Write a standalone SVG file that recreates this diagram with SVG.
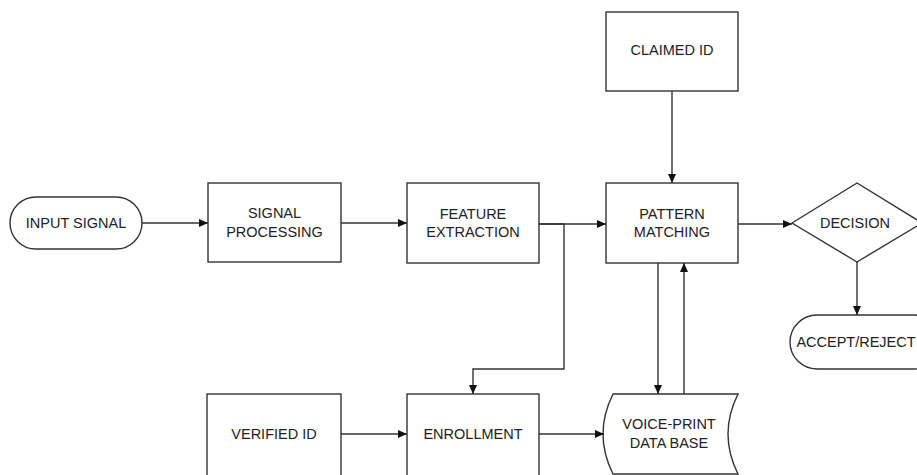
<svg xmlns="http://www.w3.org/2000/svg" width="917" height="475" viewBox="0 0 917 475">
<defs>
<marker id="arr" markerWidth="10" markerHeight="10" refX="9" refY="5" orient="auto" markerUnits="userSpaceOnUse">
<path d="M0,1 L9,5 L0,9 Z" fill="#111"/>
</marker>
<style>
.n{fill:#fff;stroke:#333;stroke-width:1.4}
.t{font-family:"Liberation Sans",Arial,sans-serif;font-size:14.5px;fill:#222;text-anchor:middle}
.c{fill:none;stroke:#333;stroke-width:1.4}
</style>
</defs>
<rect width="917" height="475" fill="#fff"/>
<g id="input-signal"><rect class="n" x="10" y="197" width="132" height="52" rx="26"/><text class="t" x="76" y="228">INPUT SIGNAL</text></g>
<g id="signal-processing"><rect class="n" x="208" y="183" width="133" height="79"/><text class="t" x="274.5" y="218">SIGNAL</text><text class="t" x="274.5" y="237">PROCESSING</text></g>
<g id="feature-extraction"><rect class="n" x="407" y="183" width="132" height="80"/><text class="t" x="473" y="219">FEATURE</text><text class="t" x="473" y="237">EXTRACTION</text></g>
<g id="claimed-id"><rect class="n" x="606" y="12" width="132" height="79"/><text class="t" x="672" y="55">CLAIMED ID</text></g>
<g id="pattern-matching"><rect class="n" x="606" y="183" width="132" height="80"/><text class="t" x="672" y="219">PATTERN</text><text class="t" x="672" y="237">MATCHING</text></g>
<g id="decision"><path class="n" d="M792,223 L857,183 L922,223 L857,262 Z"/><text class="t" x="855" y="228">DECISION</text></g>
<g id="accept-reject"><rect class="n" x="790" y="315" width="150" height="54" rx="27"/><text class="t" x="856" y="347">ACCEPT/REJECT</text></g>
<g id="verified-id"><rect class="n" x="207" y="394" width="134" height="86"/><text class="t" x="274" y="439">VERIFIED ID</text></g>
<g id="enrollment"><rect class="n" x="407" y="394" width="132" height="86"/><text class="t" x="473" y="439">ENROLLMENT</text></g>
<g id="voice-print-db"><path class="n" d="M613,394 L738,394 Q718,434 738,474 L613,474 Q593,434 613,394 Z"/><text class="t" x="669" y="429">VOICE-PRINT</text><text class="t" x="669" y="448">DATA BASE</text></g>
<g id="connectors">
<line class="c" x1="142" y1="223" x2="208" y2="223" marker-end="url(#arr)"/>
<line class="c" x1="341" y1="223" x2="407" y2="223" marker-end="url(#arr)"/>
<line class="c" x1="539" y1="224" x2="606" y2="224" marker-end="url(#arr)"/>
<polyline class="c" points="539,224 564,224 564,369 473,369 473,394" marker-end="url(#arr)"/>
<line class="c" x1="672" y1="91" x2="672" y2="183" marker-end="url(#arr)"/>
<line class="c" x1="738" y1="224" x2="792" y2="224" marker-end="url(#arr)"/>
<line class="c" x1="857" y1="262" x2="857" y2="315" marker-end="url(#arr)"/>
<line class="c" x1="658" y1="263" x2="658" y2="394" marker-end="url(#arr)"/>
<line class="c" x1="684" y1="394" x2="684" y2="263" marker-end="url(#arr)"/>
<line class="c" x1="341" y1="434" x2="407" y2="434" marker-end="url(#arr)"/>
<line class="c" x1="539" y1="434" x2="604" y2="434" marker-end="url(#arr)"/>
</g>
</svg>
